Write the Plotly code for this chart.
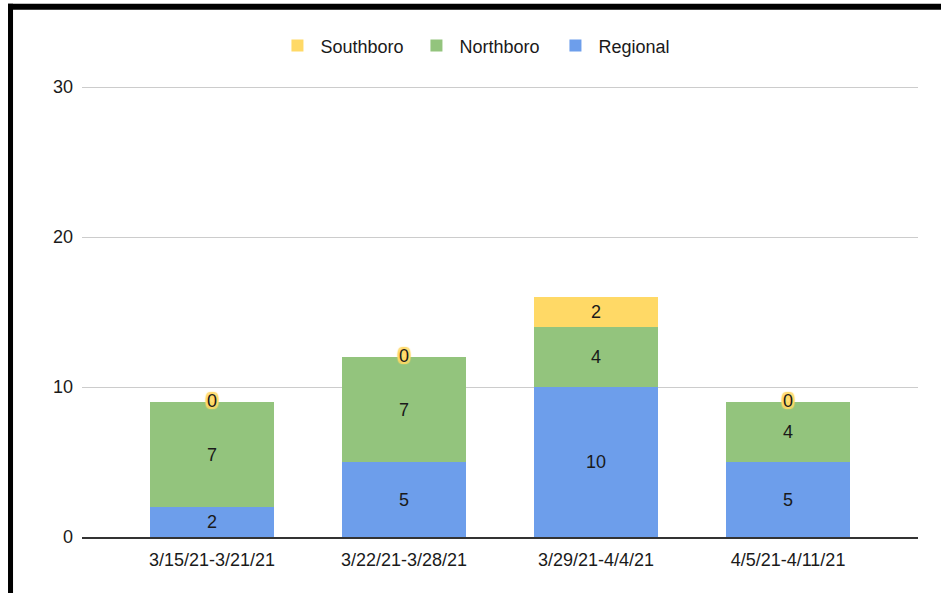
import plotly.graph_objects as go

categories = ["3/15/21-3/21/21", "3/22/21-3/28/21", "3/29/21-4/4/21", "4/5/21-4/11/21"]
regional = [2, 5, 10, 5]
northboro = [7, 7, 4, 4]
southboro = [0, 0, 2, 0]
y_ticks = [0, 10, 20, 30]

C_S = "#ffd966"
C_N = "#93c47d"
C_R = "#6d9eeb"
FONT = "Liberation Sans, Arial, sans-serif"
TXT = "#1a1a1a"

totals = [r + n + s for r, n, s in zip(regional, northboro, southboro)]

fig = go.Figure()
fig.add_trace(go.Bar(name="Regional", x=categories, y=regional, marker_color=C_R,
                     marker_line_width=0,
                     text=[str(v) for v in regional], textposition="inside",
                     insidetextanchor="middle", textangle=0,
                     textfont=dict(family=FONT, size=18, color=TXT)))
fig.add_trace(go.Bar(name="Northboro", x=categories, y=northboro, marker_color=C_N,
                     marker_line_width=0,
                     text=[str(v) for v in northboro], textposition="inside",
                     insidetextanchor="middle", textangle=0,
                     textfont=dict(family=FONT, size=18, color=TXT)))
fig.add_trace(go.Bar(name="Southboro", x=categories, y=southboro, marker_color=C_S,
                     marker_line_width=0,
                     text=[str(v) if v else "" for v in southboro], textposition="inside",
                     insidetextanchor="middle", textangle=0,
                     textfont=dict(family=FONT, size=18, color=TXT)))
# zero-valued Southboro labels, drawn at the top of each stack
zx = [c for c, s in zip(categories, southboro) if s == 0]
zy = [t for t, s in zip(totals, southboro) if s == 0]
fig.add_trace(go.Scatter(x=zx, y=zy, mode="text", text=["0"] * len(zx),
                         textposition="middle center", showlegend=False, hoverinfo="skip",
                         textfont=dict(family=FONT, size=18, color=TXT,
                                       shadow="2px 0 1px #ffd966, -2px 0 1px #ffd966, 0 2px 1px #ffd966, 0 -2px 1px #ffd966, 2px 2px 1px #ffd966, -2px -2px 1px #ffd966, 2px -2px 1px #ffd966, -2px 2px 1px #ffd966")))

fig.update_layout(
    barmode="stack",
    bargap=0.354,
    width=941, height=593,
    margin=dict(l=82, r=23, t=86, b=56),
    paper_bgcolor="white", plot_bgcolor="white",
    font=dict(family=FONT, size=18, color=TXT),
    showlegend=True,
    legend=dict(orientation="h", x=0.4796, xanchor="center", y=1.089, yanchor="middle",
                traceorder="reversed", font=dict(family=FONT, size=18, color=TXT),
                itemwidth=36, entrywidth=88, entrywidthmode="pixels", itemclick=False),
    xaxis=dict(range=[-0.677, 3.677], showgrid=False, showline=True, linecolor="#333333",
               linewidth=1.5, ticks="", tickfont=dict(family=FONT, size=18, color=TXT),
               ticklabelstandoff=6),
    yaxis=dict(range=[0, 30.07], tickvals=y_ticks, showgrid=True, gridcolor="#cccccc",
               gridwidth=1, zeroline=False, showline=False, ticks="",
               tickfont=dict(family=FONT, size=18, color=TXT), ticklabelstandoff=8),
    shapes=[
        dict(type="rect", xref="paper", yref="paper", x0=-0.0885, x1=-0.0825,
             y0=-0.13, y1=1.1822, fillcolor="black", line_width=0, layer="above"),
        dict(type="rect", xref="paper", yref="paper", x0=-0.0885, x1=1.03,
             y0=1.1689, y1=1.1822, fillcolor="black", line_width=0, layer="above"),
    ],
)

fig.write_html("out.html", config={"displayModeBar": False},
               post_script="document.body.style.margin='0';document.body.style.overflow='hidden';")
